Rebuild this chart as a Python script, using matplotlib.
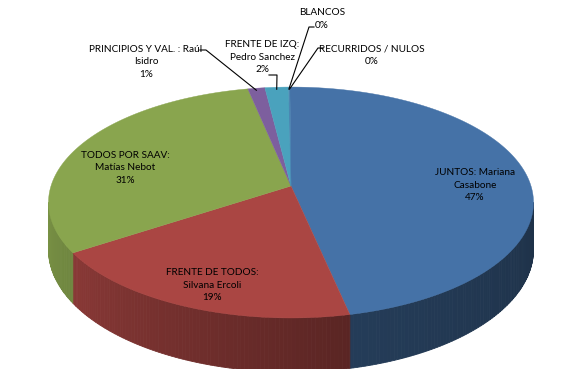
import numpy as np
import matplotlib
matplotlib.use('Agg')
import matplotlib.pyplot as plt
from matplotlib.colors import to_rgb

plt.rcParams['font.family'] = ['Lato', 'DejaVu Sans']

# data, clockwise from 12 o'clock
labels = ['JUNTOS: Mariana\nCasabone', 'FRENTE DE TODOS:\nSilvana Ercoli',
          'TODOS POR SAAV:\nMatías Nebot', 'PRINCIPIOS Y VAL. : Raúl\nIsidro',
          'FRENTE DE IZQ:\nPedro Sanchez', 'BLANCOS', 'RECURRIDOS / NULOS']
values = [46.7, 19.2, 30.9, 1.3, 1.8, 0.05, 0.05]
pct_text = ['47%', '19%', '31%', '1%', '2%', '0%', '0%']
colors = ['#4572a7', '#aa4643', '#89a54e', '#7d5f9e', '#4aa2bd', '#4a8fb5', '#4680b0']

# perspective view of the pie (pixels)
x0, y0 = 291, 186      # pie centre on screen
A, B = 240.0, 113.1    # horizontal / vertical radius
k = 0.143              # perspective strength
D = 46.3               # thickness
start = 90.3


def pt(t, h=0.0):
    t = np.radians(t)
    u, v = np.cos(t), np.sin(t)
    w = 1 + k * v
    return x0 + A * u / w, y0 + (-B * v + D * h) / w


def side_shade(t):
    return np.interp(t, [-180, -150, -78, 0], [0.9, 0.82, 0.53, 0.42])


fig = plt.figure(figsize=(5.85, 3.69), dpi=100)
ax = fig.add_axes([0, 0, 1, 1])
ax.set_xlim(0, 585)
ax.set_ylim(369, 0)
ax.axis('off')

fr = np.array(values) / sum(values)
ends = start - np.cumsum(fr) * 360
begins = np.concatenate([[start], ends[:-1]])

# visible part of the side wall lies between the two silhouette angles
right_sil = -np.degrees(np.arcsin(k))
left_sil = -180 - right_sil

for b, e, c in zip(begins, ends, colors):
    hi, lo = min(b, right_sil), max(e, left_sil)
    if hi <= lo:
        continue
    edges = np.linspace(hi, lo, max(2, int((hi - lo) / 0.8) + 1))
    for t1, t2 in zip(edges[:-1], edges[1:]):
        ts = np.linspace(t1, t2, 4)
        top = [pt(t) for t in ts]
        bot = [pt(t, 1) for t in ts[::-1]]
        col = np.array(to_rgb(c)) * side_shade((t1 + t2) / 2)
        ax.fill(*zip(*(top + bot)), color=col, lw=0.6, ec=col)

# top face
for b, e, c in zip(begins, ends, colors):
    ts = np.linspace(b, e, max(3, int(abs(b - e)) + 2))
    xs, ys = zip(*([(x0, y0)] + [pt(t) for t in ts]))
    ax.fill(xs, ys, color=c, lw=0.3, ec=c)

txt = dict(fontsize=7.2, color='black', ha='center', va='center', linespacing=1.55)

# labels inside the big slices
inside = {0: (475, 185), 1: (212, 285), 2: (125, 168)}
for i, (x, y) in inside.items():
    ax.text(x, y, labels[i] + '\n' + pct_text[i], **txt)

# outside labels with leader lines
mids = (begins + ends) / 2
outside = {3: ((146, 62), (200, 50), (206, 50)),
           4: ((262, 57), (269, 75), (277, 75)),
           5: ((322, 19), (314, 27), (309, 27)),
           6: ((372, 55), (323, 48), (318, 48))}
for i, ((x, y), p1, p2) in outside.items():
    ax.text(x, y, labels[i] + '\n' + pct_text[i], **txt)
    tx, ty = pt(mids[i])
    ax.plot([p1[0], p2[0], tx], [p1[1], p2[1], ty + 2], color='black', lw=0.8)

fig.savefig('out.png', dpi=100)
